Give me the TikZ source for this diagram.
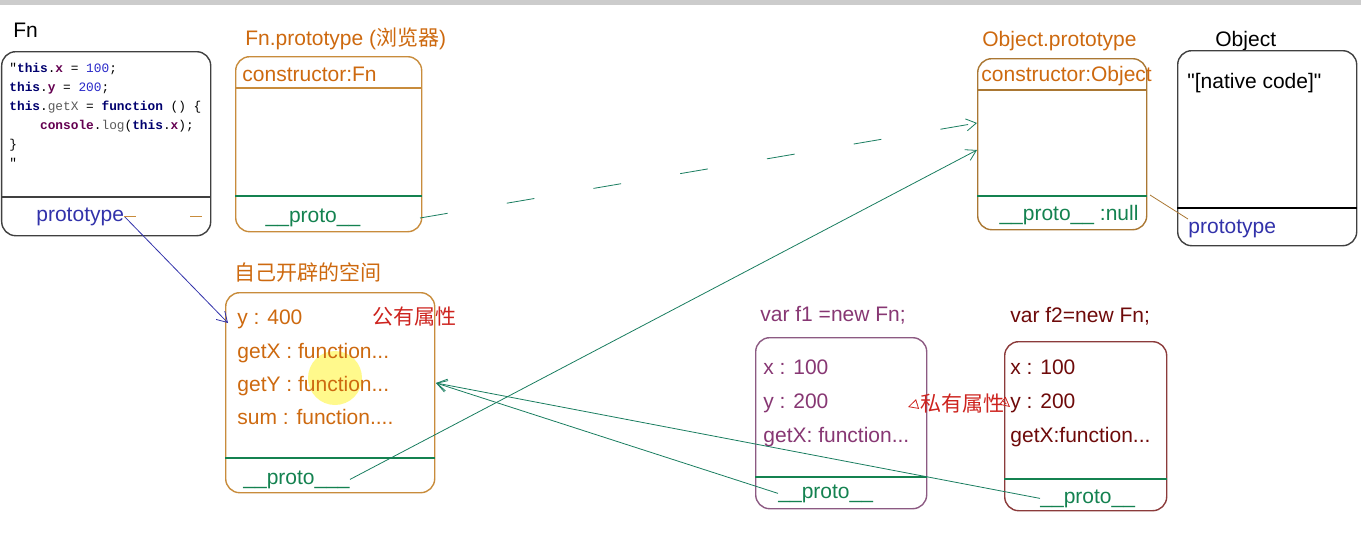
\documentclass[tikz,border=0pt]{standalone}
\usepackage{fontspec}
\setmainfont{Liberation Sans}
\setmonofont{Liberation Mono}
\newfontfamily\cjk{Noto Sans CJK SC}
\usepackage{tikz}
\usetikzlibrary{arrows.meta,positioning}

\definecolor{protoorange}{RGB}{205,105,15}
\definecolor{boxorange}{RGB}{200,140,60}
\definecolor{protogreen}{RGB}{20,130,80}
\definecolor{linkgreen}{RGB}{25,125,95}
\definecolor{protoblue}{RGB}{50,50,170}
\definecolor{fonepurple}{RGB}{135,55,115}
\definecolor{foneborder}{RGB}{140,90,130}
\definecolor{ftwored}{RGB}{110,10,10}
\definecolor{attrred}{RGB}{205,35,30}
\definecolor{codenavy}{RGB}{0,0,110}
\definecolor{codepurple}{RGB}{100,0,80}
\definecolor{codeblue}{RGB}{40,40,200}
\definecolor{codegray}{RGB}{90,90,90}

\newcommand{\kw}[1]{\textcolor{codenavy}{\textbf{#1}}}
\newcommand{\kv}[1]{\textcolor{codepurple}{\textbf{#1}}}
\newcommand{\knum}[1]{\textcolor{codeblue}{#1}}
\newcommand{\kplain}[1]{\textcolor{codegray}{#1}}

\begin{document}
\begin{tikzpicture}[
    x=0.5pt, y=-0.5pt,
    objbox/.style={draw, rounded corners=7pt, inner sep=0pt, anchor=north west, line width=0.7pt},
    field/.style={anchor=base west, inner sep=0pt, font=\fontsize{10.5}{12}\selectfont},
    arrow/.style={-{Straight Barb[length=5pt,width=6pt]}, thin, draw=linkgreen}
]
    \useasboundingbox (0,0) rectangle (1361,536);
    \fill[gray!40] (0,0) rectangle (1361,5);

    % Fn
    \node[field] (fntitle) at (13,37) {Fn};
    \node[objbox, draw=black!75, minimum width=104.5pt, minimum height=92pt] (fn) at (1,51) {};
    \draw[black!75, line width=0.7pt] (fn.west |- 0,197) -- (fn.east |- 0,197);
    \node[anchor=north west, inner sep=0pt, align=left, font=\ttfamily\fontsize{6.4}{9.5}\selectfont] (code) at (9,63) {%
        \textquotedbl\kw{this}.\kv{x} = \knum{100};\\
        \kw{this}.\kv{y} = \knum{200};\\
        \kw{this}.\kplain{getX} = \kw{function} () \{\\
        \phantom{xxxx}\kv{console}.\kplain{log}(\kw{this}.\kv{x});\\
        \}\\
        \textquotedbl};
    \node[field, text=protoblue] (fnproto) at (36,221) {prototype};

    % Fn.prototype
    \node[field, text=protoorange] (fptitle) at (245,45) {Fn.prototype ({\cjk 浏览器})};
    \node[objbox, draw=boxorange, minimum width=93pt, minimum height=87.5pt] (fp) at (235,56) {};
    \draw[boxorange, line width=0.7pt] (fp.west |- 0,88) -- (fp.east |- 0,88);
    \draw[protogreen, line width=0.7pt] (fp.west |- 0,196) -- (fp.east |- 0,196);
    \node[field, text=protoorange] (fpctor) at (242,81) {constructor:Fn};
    \node[field, anchor=base, text=protogreen] (fpproto) at (313,222) {\_\_proto\_\_};

    % Object.prototype
    \node[field, text=protoorange] (optitle) at (982,46) {Object.prototype};
    \node[objbox, draw=boxorange!85!black, minimum width=84.5pt, minimum height=85.5pt] (op) at (977,58) {};
    \draw[boxorange!85!black, line width=0.7pt] (op.west |- 0,90) -- (op.east |- 0,90);
    \draw[protogreen, line width=0.7pt] (op.west |- 0,196) -- (op.east |- 0,196);
    \node[field, text=protoorange] (opctor) at (981,81) {constructor:Object};
    \node[field, anchor=base, text=protogreen] (opproto) at (1069,220) {\_\_proto\_\_ :null};

    % Object
    \node[field] (objtitle) at (1215,46) {Object};
    \node[objbox, draw=black!75, minimum width=89.5pt, minimum height=97.5pt] (obj) at (1177,50) {};
    \draw[black, line width=0.7pt] (obj.west |- 0,208) -- (obj.east |- 0,208);
    \node[field] (native) at (1187,88) {\textquotedbl[native code]\textquotedbl};
    \node[field, text=protoblue] (objproto) at (1188,233) {prototype};

    % own space
    \node[field, text=protoorange] (owntitle) at (234,280) {\cjk 自己开辟的空间};
    \fill[yellow!45] (335,378) circle[radius=13.5pt];
    \node[objbox, draw=boxorange, minimum width=104.5pt, minimum height=100pt] (own) at (225,292) {};
    \draw[protogreen, line width=0.7pt] (own.west |- 0,458) -- (own.east |- 0,458);
    \node[field, text=protoorange] (owny) at (237,324) {y : 400};
    \node[field, text=protoorange] (owngetx) at (237,358) {getX : function...};
    \node[field, text=protoorange] (owngety) at (237,391) {getY : function...};
    \node[field, text=protoorange] (ownsum) at (237,424) {sum : function....};
    \node[field, text=attrred] (pubattr) at (372,324) {\cjk 公有属性};
    \node[field, text=protogreen] (ownproto) at (243,484) {\_\_proto\_\_\_};

    % f1
    \node[field, text=fonepurple] (fonetitle) at (760,321) {var f1 =new Fn;};
    \node[objbox, draw=foneborder, minimum width=85.5pt, minimum height=85.5pt] (fone) at (755,337) {};
    \draw[protogreen, line width=0.7pt] (fone.west |- 0,477) -- (fone.east |- 0,477);
    \node[field, text=fonepurple] (fonex) at (763,374) {x : 100};
    \node[field, text=fonepurple] (foney) at (763,408) {y : 200};
    \node[field, text=fonepurple] (fonegetx) at (763,442) {getX: function...};
    \node[field, text=protogreen] (foneproto) at (778,498) {\_\_proto\_\_};

    % f2
    \node[field, text=ftwored] (ftwotitle) at (1010,322) {var f2=new Fn;};
    \node[objbox, draw=ftwored!80, minimum width=81pt, minimum height=84.5pt] (ftwo) at (1004,341) {};
    \draw[protogreen, line width=0.7pt] (ftwo.west |- 0,479) -- (ftwo.east |- 0,479);
    \node[field, text=ftwored] (ftwox) at (1010,374) {x : 100};
    \node[field, text=ftwored] (ftwoy) at (1010,408) {y : 200};
    \node[field, text=ftwored] (ftwogetx) at (1010,442) {getX:function...};
    \node[field, text=protogreen] (ftwoproto) at (1040,503) {\_\_proto\_\_};

    % private label
    \node[inner sep=1pt, text=attrred, font=\fontsize{10.5}{12}\selectfont] (privattr) at (962,404) {\cjk 私有属性};
    \coordinate (privl) at (908,407);
    \coordinate (privr) at (1010,407);
    \draw[attrred, -{Triangle[open, length=5pt, width=5pt]}] (privattr.west) -- (privl);
    \draw[attrred, -{Triangle[open, length=5pt, width=5pt]}] (privattr.east) -- (privr);

    % links
    \coordinate (ownin) at (228,323);
    \coordinate (fpout) at (420,218);
    \coordinate (opin) at (977,123);
    \coordinate (ownhit) at (436,383);
    \coordinate (opright) at (1150,195);
    \draw[-{Straight Barb[length=5pt,width=6pt]}, thin, protoblue] (fnproto.east) -- (ownin);
    \draw[boxorange, line width=0.7pt, dash pattern=on 6pt off 27pt] (fnproto.east) -- (fp.west |- fnproto.east);
    \draw[arrow, dash pattern=on 14pt off 30pt] (fpout) -- (opin);
    \draw[arrow] (ownproto.east) -- (op.west |- 0,150);
    \draw[arrow] (foneproto.west) -- (ownhit);
    \draw[arrow] (ftwoproto.west) -- (ownhit);
    \draw[boxorange!85!black, thin] (objproto.north west) -- (opright);

\end{tikzpicture}
\end{document}
